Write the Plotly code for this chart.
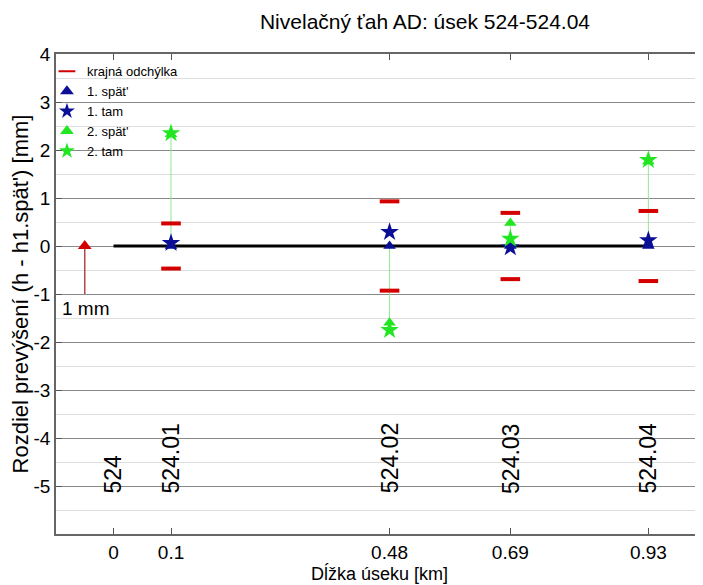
import plotly.graph_objects as go

# ---- data ----
station_x = [0, 0.1, 0.48, 0.69, 0.93]
station_labels = ["524", "524.01", "524.02", "524.03", "524.04"]
tick_text = ["0", "0.1", "0.48", "0.69", "0.93"]
meas_x = [0.1, 0.48, 0.69, 0.93]
limit = [0.47, 0.93, 0.69, 0.73]          # krajná odchýlka (±)
spat1 = [0.0, 0.0, 0.0, 0.0]              # 1. spät'
tam1 = [0.06, 0.29, -0.03, 0.12]          # 1. tam
spat2 = [2.33, -1.6, 0.48, 1.76]          # 2. spät'
tam2 = [2.35, -1.75, 0.15, 1.79]          # 2. tam
scale_x = -0.05
scale_mm = 1.0
y_ticks = [-5, -4, -3, -2, -1, 0, 1, 2, 3, 4]
y_tick_text = [str(v) for v in y_ticks]

REG = "Liberation Sans, Arial, sans-serif"

RED = "#d40000"
BLUE = "#0a0f96"
GREEN = "#22e622"
LGREEN = "#90e890"

# page has an 8px body margin, so the figure is 8px smaller than the window
W, H = 695, 577

fig = go.Figure()

# zero reference line
fig.add_trace(go.Scatter(x=[station_x[0], station_x[-1]], y=[0, 0], mode="lines",
                         line=dict(color="black", width=3), showlegend=False, hoverinfo="skip"))

# green connector lines from 0 to the 2nd measurement
gx, gy = [], []
for x, a, b in zip(meas_x, spat2, tam2):
    ext = a if abs(a) > abs(b) else b
    gx += [x, x, None]
    gy += [0, ext, None]
fig.add_trace(go.Scatter(x=gx, y=gy, mode="lines", line=dict(color=LGREEN, width=1),
                         showlegend=False, hoverinfo="skip"))

# scale bar 1 mm
fig.add_trace(go.Scatter(x=[scale_x, scale_x], y=[0, -scale_mm], mode="lines",
                         line=dict(color="#b04848", width=1.5), showlegend=False, hoverinfo="skip"))
fig.add_trace(go.Scatter(x=[scale_x], y=[0], mode="markers",
                         marker=dict(symbol="triangle-up", size=12, color=RED),
                         showlegend=False, hoverinfo="skip"))

# limits
fig.add_trace(go.Scatter(x=meas_x + meas_x, y=limit + [-v for v in limit], mode="markers",
                         name="krajná odchýlka",
                         marker=dict(symbol="line-ew", size=14, color=RED,
                                     line=dict(color=RED, width=4))))
fig.add_trace(go.Scatter(x=meas_x, y=spat1, mode="markers", name="1. spät'",
                         marker=dict(symbol="triangle-up", size=11, color=BLUE)))
fig.add_trace(go.Scatter(x=meas_x, y=tam1, mode="markers", name="1. tam",
                         marker=dict(symbol="star", size=14, color=BLUE)))
fig.add_trace(go.Scatter(x=meas_x, y=spat2, mode="markers", name="2. spät'",
                         marker=dict(symbol="triangle-up", size=11, color=GREEN)))
fig.add_trace(go.Scatter(x=meas_x, y=tam2, mode="markers", name="2. tam",
                         marker=dict(symbol="star", size=14, color=GREEN)))

annotations = []
for x, lab in zip(station_x, station_labels):
    annotations.append(dict(x=x, y=-5.2, xref="x", yref="y", text=lab, showarrow=False,
                            textangle=-90, xanchor="center", yanchor="bottom",
                            font=dict(family=REG, size=23, color="black")))
annotations.append(dict(x=-0.093, y=-1.3, xref="x", yref="y", text="1 mm", showarrow=False,
                        xanchor="left", yanchor="middle",
                        font=dict(family=REG, size=19, color="black")))

fig.update_layout(
    width=W, height=H,
    margin=dict(l=48, r=0, t=46, b=51),
    paper_bgcolor="white", plot_bgcolor="white",
    title=dict(text="Nivelačný ťah AD: úsek 524-524.04", x=417 / W, xref="container",
               xanchor="center", y=1 - 14 / H, yref="container", yanchor="middle",
               font=dict(family=REG, size=21, color="black")),
    showlegend=True,
    legend=dict(x=-0.014, y=0.995, xanchor="left", yanchor="top", bgcolor="rgba(0,0,0,0)",
                font=dict(family=REG, size=13, color="black"), tracegroupgap=0,
                itemsizing="constant"),
    annotations=annotations,
)
fig.update_xaxes(range=[-0.1, 1.025], tickvals=station_x, ticktext=tick_text,
                 ticks="inside", ticklen=6, tickcolor="#555", showgrid=False, zeroline=False,
                 showline=True, linecolor="#666", linewidth=1.5, mirror="ticks",
                 automargin=False,
                 tickfont=dict(family=REG, size=19, color="black"),
                 title=dict(text="Dĺžka úseku [km]", standoff=2,
                            font=dict(family=REG, size=18, color="black")))
fig.update_yaxes(range=[-6, 4], tickvals=y_ticks, ticktext=y_tick_text,
                 ticks="inside", ticklen=6, tickcolor="#555",
                 showgrid=True, gridcolor="#8a8a8a", gridwidth=1, zeroline=False,
                 showline=True, linecolor="#666", linewidth=1.5, mirror=False,
                 automargin=False,
                 minor=dict(dtick=0.5, showgrid=True, gridcolor="#dedede", gridwidth=1, ticks=""),
                 tickfont=dict(family=REG, size=19, color="black"),
                 title=dict(text="Rozdiel prevýšení (h - h1.spät') [mm]", standoff=1,
                            font=dict(family=REG, size=22, color="black")))

fig.write_html("out.html")
